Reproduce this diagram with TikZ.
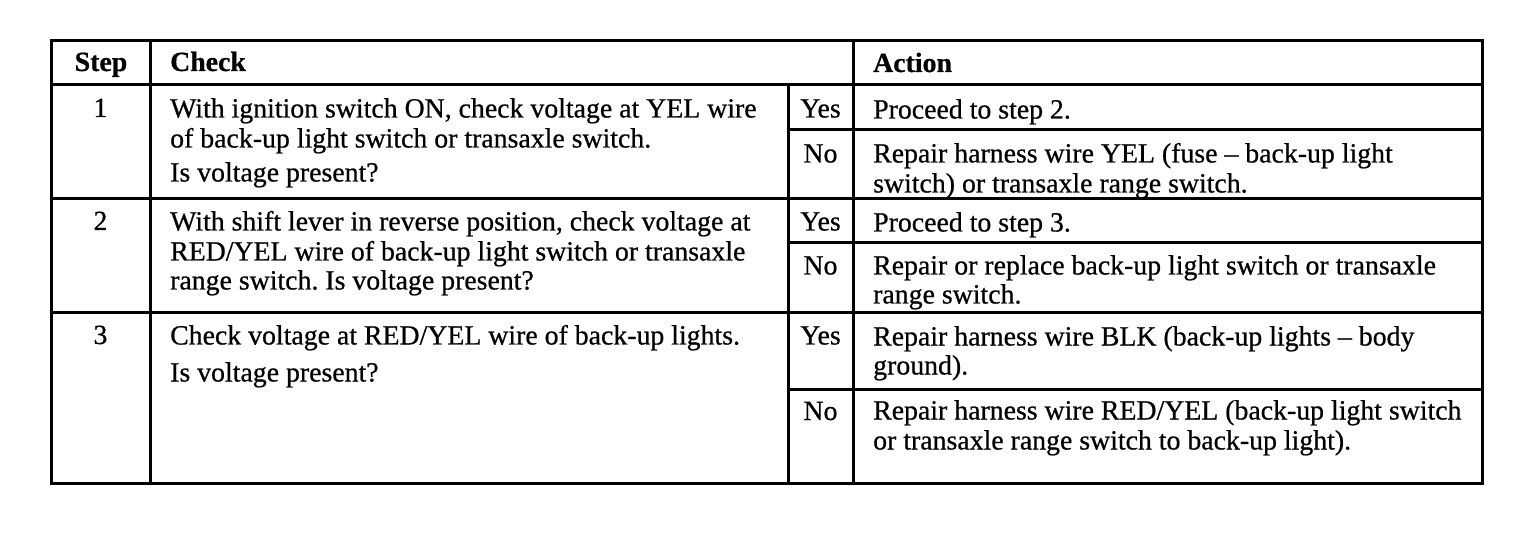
\documentclass[tikz,border=0pt]{standalone}
\usepackage{fontspec}
\setmainfont{Liberation Serif}[FakeBold=0.6]
\frenchspacing
\begin{document}
\begin{tikzpicture}[x=1pt,y=-1pt,
  rule/.style={line width=3pt, line cap=rect},
  txt/.style={anchor=base west, inner sep=0pt, font=\fontsize{27.8}{30}\selectfont},
  ctr/.style={anchor=base, inner sep=0pt, font=\fontsize{27.8}{30}\selectfont},
  hdr/.style={anchor=base west, inner sep=0pt, font=\fontsize{27.8}{30}\selectfont\bfseries},
  hdrc/.style={anchor=base, inner sep=0pt, font=\fontsize{27.8}{30}\selectfont\bfseries}]
\useasboundingbox (0,0) rectangle (1536,534);
\fill[white] (0,0) rectangle (1536,534);
% grid
\coordinate (tl) at (51,41);
\coordinate (br) at (1482,483);
\draw[rule, line join=miter] (tl) rectangle (br);
\draw[rule] (51,85) -- (1482,85);
\draw[rule] (51,199) -- (1482,199);
\draw[rule] (51,313) -- (1482,313);
\draw[rule] (788,130) -- (1482,130);
\draw[rule] (788,243) -- (1482,243);
\draw[rule] (788,389) -- (1482,389);
\draw[rule] (150,41) -- (150,483);
\draw[rule] (853,41) -- (853,483);
\draw[rule] (788,85) -- (788,483);
% header
\node[hdrc] (hstep) at (101,71) {Step};
\node[hdr] (hcheck) at (170,71) {Check};
\node[hdr] (haction) at (873,72) {Action};
% row 1
\node[ctr] (s1) at (100.5,117) {1};
\node[txt] (c1a) at (170,117.5) {With ignition switch ON, check voltage at YEL wire};
\node[txt] (c1b) at (170,147.5) {of back-up light switch or transaxle switch.};
\node[txt] (c1c) at (170,181.5) {Is voltage present?};
\node[ctr] (y1) at (820.5,117.5) {Yes};
\node[txt] (a1y) at (873,118.5) {Proceed to step 2.};
\node[ctr] (n1) at (820.5,162.5) {No};
\node[txt] (a1na) at (873,162.5) {Repair harness wire YEL (fuse -- back-up light};
\node[txt] (a1nb) at (873,192.5) {switch) or transaxle range switch.};
% row 2
\node[ctr] (s2) at (100.5,230) {2};
\node[txt] (c2a) at (170,230.5) {With shift lever in reverse position, check voltage at};
\node[txt] (c2b) at (170,260.5) {RED/YEL wire of back-up light switch or transaxle};
\node[txt] (c2c) at (170,289.5) {range switch. Is voltage present?};
\node[ctr] (y2) at (820.5,230.5) {Yes};
\node[txt] (a2y) at (873,231.5) {Proceed to step 3.};
\node[ctr] (n2) at (820.5,274.5) {No};
\node[txt] (a2na) at (873,274.5) {Repair or replace back-up light switch or transaxle};
\node[txt] (a2nb) at (873,303.5) {range switch.};
% row 3
\node[ctr] (s3) at (100.5,344) {3};
\node[txt] (c3a) at (170,344.5) {Check voltage at RED/YEL wire of back-up lights.};
\node[txt] (c3b) at (170,381.5) {Is voltage present?};
\node[ctr] (y3) at (820.5,344.5) {Yes};
\node[txt] (a3ya) at (873,345.5) {Repair harness wire BLK (back-up lights -- body};
\node[txt] (a3yb) at (873,374.5) {ground).};
\node[ctr] (n3) at (820.5,420) {No};
\node[txt] (a3na) at (873,419.5) {Repair harness wire RED/YEL (back-up light switch};
\node[txt] (a3nb) at (873,449.5) {or transaxle range switch to back-up light).};
\end{tikzpicture}
\end{document}
